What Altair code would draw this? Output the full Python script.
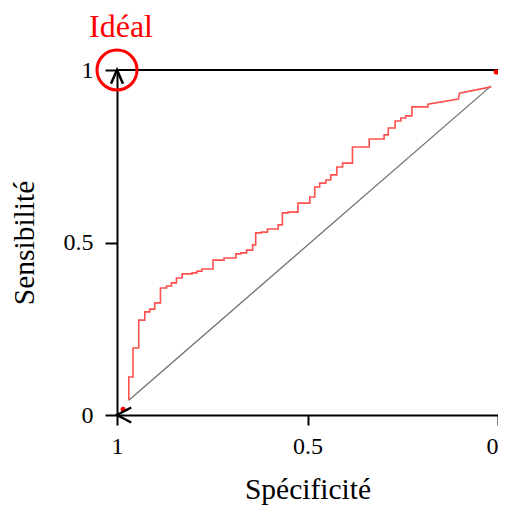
import altair as alt
import pandas as pd

# ---- data (x = spécificité, y = sensibilité) ----
start_spec, start_sens = 0.969, 0.043
step_spec = [0.969, 0.958, 0.943, 0.927, 0.914, 0.901, 0.886, 0.870, 0.857, 0.844,
             0.829, 0.803, 0.790, 0.777, 0.748, 0.719, 0.688, 0.675, 0.660, 0.644,
             0.636, 0.621, 0.605, 0.577, 0.566, 0.551, 0.525, 0.494, 0.481, 0.468,
             0.452, 0.439, 0.423, 0.408, 0.382, 0.338, 0.299, 0.288, 0.270, 0.255,
             0.242, 0.226, 0.184]
step_sens = [0.110, 0.194, 0.275, 0.299, 0.307, 0.325, 0.368, 0.374, 0.383, 0.397,
             0.409, 0.412, 0.417, 0.423, 0.449, 0.455, 0.467, 0.470, 0.478, 0.493,
             0.528, 0.530, 0.539, 0.551, 0.586, 0.588, 0.614, 0.632, 0.661, 0.672,
             0.681, 0.696, 0.719, 0.730, 0.777, 0.800, 0.812, 0.832, 0.852, 0.861,
             0.867, 0.893, 0.901]
tail_spec = [0.104, 0.101, 0.018]
tail_sens = [0.916, 0.933, 0.951]

diag_spec = [0.969, 0.018]
diag_sens = [0.043, 0.954]

dot_spec = [0.984, 0.005]
dot_sens = [0.017, 0.994]

x_ticks = [1, 0.5, 0]
y_ticks = [0, 0.5, 1]

ideal_label = "Idéal"
x_title = "Spécificité"
y_title = "Sensibilité"

# ---- build tables ----
rows = [(start_spec, start_sens)]
prev = start_sens
for s, v in zip(step_spec, step_sens):
    rows.append((s, prev))
    rows.append((s, v))
    prev = v
rows += list(zip(tail_spec, tail_sens))
curve = pd.DataFrame(rows, columns=["spec", "sens"])
curve["i"] = range(len(curve))

diag = pd.DataFrame({"spec": diag_spec, "sens": diag_sens})
dots = pd.DataFrame({"spec": dot_spec, "sens": dot_sens})
ideal = pd.DataFrame({"spec": [1.0], "sens": [1.0], "label": [ideal_label]})
top_rule = pd.DataFrame({"spec": [1.0], "spec2": [0.0], "sens": [1.0]})
arrow_up = pd.DataFrame({"spec": [1.0], "sens": [1.0]})
arrow_left = pd.DataFrame({"spec": [1.0], "sens": [0.0]})

FONT = "Liberation Serif"
xscale = alt.Scale(domain=[1, 0], nice=False, zero=False)
yscale = alt.Scale(domain=[0, 1], nice=False, zero=False)

x_axis = alt.Axis(values=x_ticks, format="~g", title=x_title, grid=False,
                  tickSize=10, labelPadding=9, titlePadding=17,
                  labelFlush=False, labelOverlap=False,
                  labelAlign={"condition": {"test": "datum.value == 0", "value": "right"},
                              "value": "center"})
y_axis = alt.Axis(values=y_ticks, format="~g", title=y_title, grid=False,
                  tickSize=12, labelPadding=12, titlePadding=24,
                  labelFlush=False, labelOverlap=False)

X = alt.X("spec:Q", scale=xscale, axis=x_axis)
Y = alt.Y("sens:Q", scale=yscale, axis=y_axis)

curve_layer = alt.Chart(curve).mark_line(color="#ff5050", strokeWidth=1.6).encode(
    x=X, y=Y, order="i:Q")
diag_layer = alt.Chart(diag).mark_line(color="#707070", strokeWidth=1.3).encode(x=X, y=Y)
rule_layer = alt.Chart(top_rule).mark_rule(color="black", strokeWidth=2).encode(
    x=X, x2="spec2:Q", y=Y)
up_layer = alt.Chart(arrow_up).mark_point(
    shape="M-1,2.3L0,0L1,2.3", size=144, filled=False, color="black",
    strokeWidth=2.5, opacity=1).encode(x=X, y=Y)
left_layer = alt.Chart(arrow_left).mark_point(
    shape="M1.9,-1L0,0L1.9,1", size=225, filled=False, color="black",
    strokeWidth=2.5, opacity=1).encode(x=X, y=Y)
dots_layer = alt.Chart(dots).mark_point(
    shape="circle", size=25, filled=True, color="red", opacity=1).encode(x=X, y=Y)
circle_layer = alt.Chart(ideal).mark_point(
    shape="circle", size=1600, filled=False, color="red", strokeWidth=3,
    opacity=1).encode(x=X, y=Y)
text_layer = alt.Chart(ideal).mark_text(
    font=FONT, fontSize=32, color="red", dx=4, dy=-33, baseline="alphabetic",
    align="center").encode(x=X, y=Y, text="label:N")

chart = alt.layer(
    rule_layer, diag_layer, curve_layer, dots_layer, up_layer, left_layer,
    circle_layer, text_layer
).properties(
    width=381, height=345,
    autosize=alt.AutoSizeParams(type="none"),
    padding={"left": 109, "top": 62, "right": 0, "bottom": 92},
).configure_axis(
    domainColor="black", domainWidth=2, tickColor="black", tickWidth=2,
    labelFont=FONT, labelFontSize=24, labelColor="black",
    titleFont=FONT, titleFontSize=29.5, titleFontWeight="normal", titleColor="black",
).configure_view(stroke=None)

chart.save("out.html", embed_options={"renderer": "svg", "actions": False})
